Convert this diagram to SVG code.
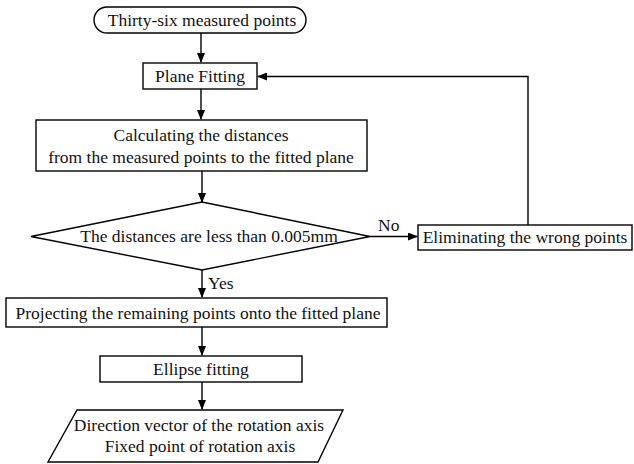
<svg xmlns="http://www.w3.org/2000/svg" width="634" height="464" viewBox="0 0 634 464">
<defs>
<marker id="ah" markerWidth="10" markerHeight="8" refX="9" refY="4" orient="auto" markerUnits="userSpaceOnUse">
<path d="M0,0 L10,4 L0,8 Z" fill="#000"/>
</marker>
<style>
.s{fill:#fff;stroke:#000;stroke-width:1.4}
.t{font-family:"Liberation Serif","Times New Roman",serif;font-size:17.5px;fill:#111;text-anchor:middle}
.c{fill:none;stroke:#000;stroke-width:1.4;marker-end:url(#ah)}
.l{fill:none;stroke:#000;stroke-width:1.4}
</style>
</defs>
<rect width="634" height="464" fill="#fff"/>
<g id="connectors">
<path class="c" d="M201,33 V62"/>
<path class="c" d="M201,89 V119"/>
<path class="c" d="M202,171 V202"/>
<path class="c" d="M370,236.5 H417"/>
<path class="c" d="M202,270 V297"/>
<path class="c" d="M202,327 V355"/>
<path class="c" d="M202,382 V409"/>
<path class="c" d="M528,225 V76.5 H258"/>
<text class="t" x="378" y="231" style="text-anchor:start">No</text>
<text class="t" x="208" y="289" style="text-anchor:start">Yes</text>
</g>
<g id="start">
<rect class="s" x="94" y="7" width="212" height="26" rx="13" ry="13"/>
<text class="t" x="202" y="26">Thirty-six measured points</text>
</g>
<g id="plane-fitting">
<rect class="s" x="143" y="63" width="114" height="26"/>
<text class="t" x="200" y="82">Plane Fitting</text>
</g>
<g id="calculating">
<rect class="s" x="36" y="120" width="331" height="51"/>
<text class="t" x="201" y="141">Calculating the distances</text>
<text class="t" x="201" y="163">from the measured points to the fitted plane</text>
</g>
<g id="decision">
<polygon class="s" points="31,236.5 202,202 370,236.5 202,270"/>
<text class="t" x="209" y="242">The distances are less than 0.005mm</text>
</g>
<g id="eliminating">
<rect class="s" x="418" y="225" width="214" height="25"/>
<text class="t" x="525" y="243">Eliminating the wrong points</text>
</g>
<g id="projecting">
<rect class="s" x="6" y="298" width="381" height="29"/>
<text class="t" x="198" y="319">Projecting the remaining points onto the fitted plane</text>
</g>
<g id="ellipse-fitting">
<rect class="s" x="100" y="356" width="202" height="26"/>
<text class="t" x="201" y="375">Ellipse fitting</text>
</g>
<g id="output">
<polygon class="s" points="77,410 343,410 318,462 48,462"/>
<text class="t" x="199" y="431">Direction vector of the rotation axis</text>
<text class="t" x="200" y="452">Fixed point of rotation axis</text>
</g>
</svg>
